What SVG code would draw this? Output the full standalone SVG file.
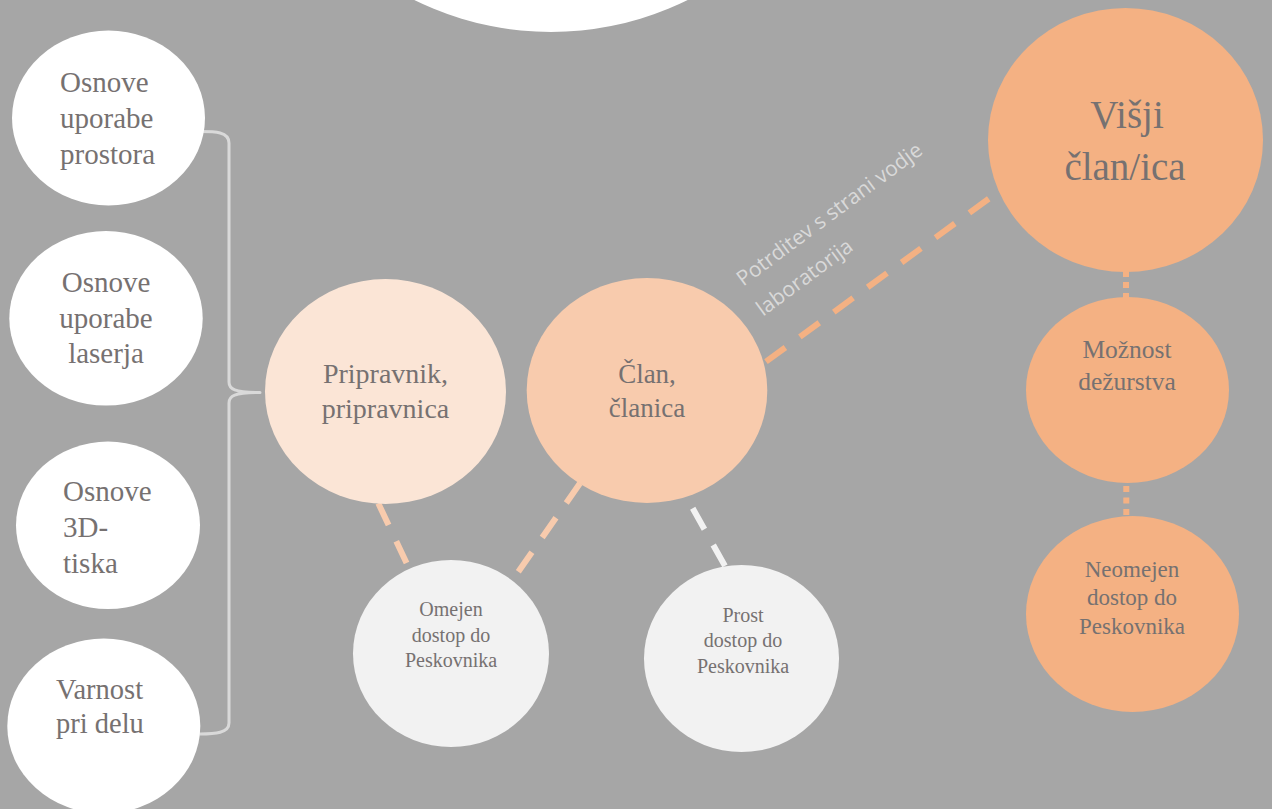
<svg xmlns="http://www.w3.org/2000/svg" width="1272" height="809" viewBox="0 0 1272 809">
  <style>
    .serif { font-family: "Liberation Serif", "Times New Roman", serif; fill: #767171; }
    .mid { text-anchor: middle; }
    .white { fill: #ffffff; }
    .trainee { fill: #fbe5d6; }
    .member { fill: #f8cbad; }
    .senior { fill: #f4b183; }
    .access { fill: #f2f2f2; }
    .dash { fill: none; stroke-width: 6; stroke-dasharray: 24 18; }
    .dot { fill: none; stroke: #f4b183; stroke-width: 6; }
    .bracket { fill: none; stroke: #d9d9d9; stroke-width: 3; stroke-linejoin: round; }
    .label { font-family: "Open Sans", "Liberation Sans", sans-serif; font-size: 21px; fill: #d9d9d9; }
  </style>
  <rect x="0" y="0" width="1272" height="809" fill="#a6a6a6"/>

  <g id="top-shape">
    <circle cx="551" cy="-276" r="308" fill="#ffffff"/>
  </g>

  <g id="connectors">
    <path class="bracket" d="M200,131.5 C215,131.5 229,131.5 229,143 L229,382 C229,389 234,392.5 260,392.5 C234,392.5 229,396 229,403 L229,723 C229,733 215,734 200,734"/>
    <line class="dash" stroke="#f8cbad" x1="378.3" y1="503.3" x2="406.7" y2="563.3"/>
    <line class="dash" stroke="#f8cbad" x1="580" y1="483.3" x2="518.3" y2="571.7"/>
    <line class="dash" stroke="#f2f2f2" x1="692.7" y1="508.3" x2="725" y2="566"/>
    <line class="dash" stroke="#f4b183" x1="766" y1="361.7" x2="989.3" y2="198.3"/>
    <line class="dot" x1="1126" y1="271" x2="1126" y2="299" stroke-dasharray="6 5"/>
    <line class="dot" x1="1126.3" y1="486" x2="1126.3" y2="516" stroke-dasharray="6 5.5"/>
    <g transform="translate(743.3,286.7) rotate(-36.5)">
      <text class="label" x="0" y="0">Potrditev s strani vodje</text>
      <text class="label" x="-2" y="36">laboratorija</text>
    </g>
  </g>

  <g id="node-prostor">
    <ellipse class="white" cx="108.5" cy="118" rx="96.5" ry="87.5"/>
    <text class="serif" font-size="29" x="60" y="92">Osnove</text>
    <text class="serif" font-size="29" x="60" y="128">uporabe</text>
    <text class="serif" font-size="29" x="60" y="164">prostora</text>
  </g>

  <g id="node-laser">
    <ellipse class="white" cx="106" cy="318.3" rx="96.7" ry="87.3"/>
    <text class="serif mid" font-size="29" x="106" y="292">Osnove</text>
    <text class="serif mid" font-size="29" x="106" y="328">uporabe</text>
    <text class="serif mid" font-size="29" x="106" y="363">laserja</text>
  </g>

  <g id="node-3d">
    <ellipse class="white" cx="108" cy="525.3" rx="92" ry="83.7"/>
    <text class="serif" font-size="29" x="63" y="501">Osnove</text>
    <text class="serif" font-size="29" x="63" y="537">3D-</text>
    <text class="serif" font-size="29" x="63" y="573">tiska</text>
  </g>

  <g id="node-varnost">
    <ellipse class="white" cx="103.8" cy="726" rx="96.5" ry="87.5"/>
    <text class="serif" font-size="28.5" x="56" y="699">Varnost</text>
    <text class="serif" font-size="28.5" x="56" y="733">pri delu</text>
  </g>

  <g id="node-pripravnik">
    <ellipse class="trainee" cx="385.5" cy="391.5" rx="120.5" ry="112.5"/>
    <text class="serif mid" font-size="28" x="385.5" y="383">Pripravnik,</text>
    <text class="serif mid" font-size="28" x="385.5" y="418">pripravnica</text>
  </g>

  <g id="node-clan">
    <ellipse class="member" cx="647" cy="390.5" rx="120.3" ry="112.5"/>
    <text class="serif mid" font-size="27" x="647" y="383">Član,</text>
    <text class="serif mid" font-size="27" x="647" y="417">članica</text>
  </g>

  <g id="node-visji">
    <ellipse class="senior" cx="1125.5" cy="140" rx="137.5" ry="132"/>
    <text class="serif mid" font-size="39" x="1127" y="128">Višji</text>
    <text class="serif mid" font-size="39" x="1125" y="180">član/ica</text>
  </g>

  <g id="node-omejen">
    <ellipse class="access" cx="451" cy="653.5" rx="98" ry="93.5"/>
    <text class="serif mid" font-size="20" x="451" y="616">Omejen</text>
    <text class="serif mid" font-size="20" x="451" y="642">dostop do</text>
    <text class="serif mid" font-size="20" x="451" y="667">Peskovnika</text>
  </g>

  <g id="node-prost">
    <ellipse class="access" cx="741.5" cy="658.5" rx="97.5" ry="93.5"/>
    <text class="serif mid" font-size="20" x="743" y="622">Prost</text>
    <text class="serif mid" font-size="20" x="743" y="647">dostop do</text>
    <text class="serif mid" font-size="20" x="743" y="673">Peskovnika</text>
  </g>

  <g id="node-mozznost">
    <ellipse class="senior" cx="1127.5" cy="390" rx="101.5" ry="93"/>
    <text class="serif mid" font-size="25.5" x="1127" y="358">Možnost</text>
    <text class="serif mid" font-size="25.5" x="1127" y="390">dežurstva</text>
  </g>

  <g id="node-neomejen">
    <ellipse class="senior" cx="1132.5" cy="614" rx="106.5" ry="98"/>
    <text class="serif mid" font-size="23" x="1132" y="577">Neomejen</text>
    <text class="serif mid" font-size="23" x="1132" y="605">dostop do</text>
    <text class="serif mid" font-size="23" x="1132" y="634">Peskovnika</text>
  </g>
</svg>
